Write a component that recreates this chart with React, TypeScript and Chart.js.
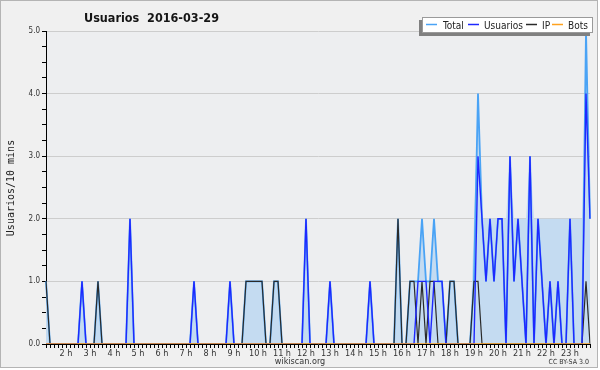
import React, { useEffect, useRef } from "react";
import { Chart, registerables } from "chart.js";

Chart.register(...registerables);

// 10-minute slots from 01:10 to 23:50
const START_MINUTE = 70;
const SLOT_COUNT = 137;
const categories: string[] = [];
for (let i = 0; i < SLOT_COUNT; i++) {
  const m = START_MINUTE + i * 10;
  categories.push(`${String(Math.floor(m / 60)).padStart(2, "0")}:${String(m % 60).padStart(2, "0")}`);
}
const tickLabels: string[] = categories.map((c) => (c.endsWith(":00") ? `${parseInt(c, 10)} h` : ""));

// rows: 01:10-01:50, then one row per hour (02h ... 23h)
const usuarios: number[] = [
  0, 0, 0, 0, 0,
  0, 0, 0, 0, 1, 0,
  0, 0, 0, 0, 0, 0,
  0, 0, 0, 0, 2, 0,
  0, 0, 0, 0, 0, 0,
  0, 0, 0, 0, 0, 0,
  0, 0, 1, 0, 0, 0,
  0, 0, 0, 0, 0, 1,
  0, 0, 0, 0, 0, 0,
  0, 0, 0, 0, 0, 0,
  0, 0, 0, 0, 0, 0,
  2, 0, 0, 0, 0, 0,
  1, 0, 0, 0, 0, 0,
  0, 0, 0, 0, 1, 0,
  0, 0, 0, 0, 0, 0,
  0, 0, 0, 0, 1, 1,
  1, 0, 1, 1, 1, 0,
  0, 0, 0, 0, 0, 0,
  0, 3, 2, 1, 2, 1,
  2, 2, 0, 3, 1, 2,
  1, 0, 3, 0, 2, 1,
  0, 1, 0, 1, 0, 0,
  2, 0, 0, 0, 4, 2,
];

const ip: number[] = [
  1, 0, 0, 0, 0,
  0, 0, 0, 0, 0, 0,
  0, 0, 1, 0, 0, 0,
  0, 0, 0, 0, 0, 0,
  0, 0, 0, 0, 0, 0,
  0, 0, 0, 0, 0, 0,
  0, 0, 0, 0, 0, 0,
  0, 0, 0, 0, 0, 0,
  0, 0, 0, 1, 1, 1,
  1, 1, 0, 0, 1, 1,
  0, 0, 0, 0, 0, 0,
  0, 0, 0, 0, 0, 0,
  0, 0, 0, 0, 0, 0,
  0, 0, 0, 0, 0, 0,
  0, 0, 0, 0, 0, 2,
  0, 0, 1, 1, 0, 1,
  0, 1, 1, 0, 0, 0,
  1, 1, 0, 0, 0, 0,
  1, 1, 0, 0, 0, 0,
  0, 0, 0, 0, 0, 0,
  0, 0, 0, 0, 0, 0,
  0, 0, 0, 0, 0, 0,
  0, 0, 0, 0, 1, 0,
];

const total: number[] = [
  1, 0, 0, 0, 0,
  0, 0, 0, 0, 1, 0,
  0, 0, 1, 0, 0, 0,
  0, 0, 0, 0, 2, 0,
  0, 0, 0, 0, 0, 0,
  0, 0, 0, 0, 0, 0,
  0, 0, 1, 0, 0, 0,
  0, 0, 0, 0, 0, 1,
  0, 0, 0, 1, 1, 1,
  1, 1, 0, 0, 1, 1,
  0, 0, 0, 0, 0, 0,
  2, 0, 0, 0, 0, 0,
  1, 0, 0, 0, 0, 0,
  0, 0, 0, 0, 1, 0,
  0, 0, 0, 0, 0, 2,
  0, 0, 1, 1, 1, 2,
  1, 1, 2, 1, 1, 0,
  1, 1, 0, 0, 0, 0,
  1, 4, 2, 1, 2, 1,
  2, 2, 0, 3, 1, 2,
  1, 0, 3, 0, 2, 1,
  0, 1, 0, 1, 0, 0,
  2, 0, 0, 0, 5, 2,
];

const bots: number[] = new Array(SLOT_COUNT).fill(0);

// shaded area
const area: number[] = [
  1, 0, 0, 0, 0,
  0, 0, 0, 0, 1, 0,
  0, 0, 1, 0, 0, 0,
  0, 0, 0, 0, 2, 0,
  0, 0, 0, 0, 0, 0,
  0, 0, 0, 0, 0, 0,
  0, 0, 1, 0, 0, 0,
  0, 0, 0, 0, 0, 1,
  0, 0, 0, 1, 1, 1,
  1, 1, 0, 0, 1, 1,
  0, 0, 0, 0, 0, 0,
  2, 0, 0, 0, 0, 0,
  1, 0, 0, 0, 0, 0,
  0, 0, 0, 0, 1, 0,
  0, 0, 0, 0, 0, 2,
  0, 0, 1, 1, 1, 2,
  1, 1, 2, 1, 1, 0,
  1, 1, 0, 0, 0, 0,
  2, 4, 2, 2, 2, 2,
  2, 2, 2, 3, 2, 2,
  2, 2, 3, 2, 2, 2,
  2, 2, 2, 2, 2, 2,
  2, 2, 2, 2, 5, 2,
];

const TITLE = "Usuarios  2016-03-29";
const Y_TITLE = "Usuarios/10 mins";
const LEGEND = [
  { label: "Total", color: "#4aa3f5", lineX: 426, textX: 443 },
  { label: "Usuarios", color: "#1e28ff", lineX: 468, textX: 484 },
  { label: "IP", color: "#2a2a2a", lineX: 526, textX: 542 },
  { label: "Bots", color: "#ffa21f", lineX: 552, textX: 568 },
];

const SANS = "'DejaVu Sans Condensed', 'DejaVu Sans', sans-serif";
const AREA_INDEX = 4;

const decor = {
  id: "decor",
  beforeDraw(chart: any) {
    const { ctx, chartArea: a } = chart;
    ctx.save();
    ctx.fillStyle = "#ffffff";
    ctx.fillRect(0, 0, 600, 370);
    ctx.fillStyle = "#f0f0f0";
    ctx.fillRect(0, 0, 598, 368);
    ctx.strokeStyle = "#b4b4b4";
    ctx.lineWidth = 1;
    ctx.strokeRect(0.5, 0.5, 597, 367);
    ctx.fillStyle = "#edeef0";
    ctx.fillRect(a.left, a.top, a.right - a.left, a.bottom - a.top);
    ctx.restore();
  },
  beforeDatasetsDraw(chart: any) {
    const { ctx } = chart;
    const pts = chart.getDatasetMeta(AREA_INDEX).data;
    const base = chart.scales.y.getPixelForValue(0);
    ctx.save();
    ctx.fillStyle = "#c4dbf1";
    ctx.beginPath();
    ctx.moveTo(pts[0].x, base);
    for (const p of pts) ctx.lineTo(p.x, p.y);
    ctx.lineTo(pts[pts.length - 1].x, base);
    ctx.closePath();
    ctx.fill();
    ctx.restore();
  },
  afterDraw(chart: any) {
    const { ctx } = chart;
    ctx.save();
    // title
    ctx.fillStyle = "#151515";
    ctx.font = `bold 12.5px ${SANS}`;
    ctx.textAlign = "center";
    ctx.textBaseline = "alphabetic";
    ctx.fillText(TITLE, 151.5, 22);

    // y title
    ctx.save();
    ctx.translate(11, 188);
    ctx.rotate(-Math.PI / 2);
    ctx.font = "10px 'DejaVu Sans Mono', monospace";
    ctx.textAlign = "center";
    ctx.textBaseline = "middle";
    ctx.fillStyle = "#222";
    ctx.fillText(Y_TITLE, 0, 0);
    ctx.restore();

    // footer
    ctx.font = `9px ${SANS}`;
    ctx.fillStyle = "#333";
    ctx.textAlign = "center";
    ctx.fillText("wikiscan.org", 300, 364);
    ctx.font = `7px ${SANS}`;
    ctx.textAlign = "right";
    ctx.fillText("CC BY-SA 3.0", 589, 364);

    // legend
    const bx = 422, by = 17, bw = 171, bh = 16;
    ctx.fillStyle = "#808080";
    ctx.fillRect(bx - 3, by + 3, bw, bh);
    ctx.fillStyle = "#ffffff";
    ctx.fillRect(bx, by, bw, bh);
    ctx.strokeStyle = "#9a9a9a";
    ctx.lineWidth = 1;
    ctx.strokeRect(bx + 0.5, by + 0.5, bw - 1, bh - 1);
    ctx.font = `10px ${SANS}`;
    ctx.textAlign = "left";
    ctx.textBaseline = "alphabetic";
    for (const item of LEGEND) {
      ctx.strokeStyle = item.color;
      ctx.lineWidth = 1.5;
      ctx.beginPath();
      ctx.moveTo(item.lineX, 24.5);
      ctx.lineTo(item.lineX + 11, 24.5);
      ctx.stroke();
      ctx.fillStyle = "#222";
      ctx.fillText(item.label, item.textX, 28.5);
    }
    ctx.restore();
  },
};

export default function App() {
  const ref = useRef<HTMLCanvasElement | null>(null);
  useEffect(() => {
    document.body.style.margin = "0";
    const canvas = ref.current!;
    const line = (label: string, data: number[], color: string, width: number) => ({
      label,
      data,
      borderColor: color,
      backgroundColor: color,
      borderWidth: width,
      pointRadius: 0,
      tension: 0,
      fill: false,
    });
    const chart = new Chart(canvas, {
      type: "line",
      data: {
        labels: categories,
        datasets: [
          line("Bots", bots, "#ffa21f", 1.3),
          line("Usuarios", usuarios, "#1e28ff", 1.4),
          line("IP", ip, "#2a2a2a", 1.2),
          line("Total", total, "#4aa3f5", 1.8),
          {
            label: "area",
            data: area,
            showLine: false,
            borderWidth: 0,
            pointRadius: 0,
            fill: false,
          },
        ],
      },
      options: {
        responsive: false,
        animation: false,
        events: [],
        layout: { padding: { left: 0, top: 31, right: 10, bottom: 0 } },
        plugins: { legend: { display: false }, tooltip: { enabled: false }, title: { display: false } },
        scales: {
          x: {
            type: "category",
            offset: false,
            z: 1,
            afterFit: (s: any) => {
              s.height = 26;
            },
            border: { display: true, color: "#000", width: 1 },
            grid: { display: true, drawOnChartArea: false, drawTicks: true, tickLength: 4, tickColor: "#000" },
            ticks: {
              autoSkip: false,
              maxRotation: 0,
              minRotation: 0,
              padding: 0,
              color: "#333",
              font: { family: SANS, size: 9 },
              callback: (_v: any, i: number) => tickLabels[i],
            },
          },
          y: {
            min: 0,
            max: 5,
            afterFit: (s: any) => {
              s.width = 46;
            },
            border: { display: true, color: "#000", width: 1 },
            grid: {
              display: true,
              drawTicks: true,
              tickLength: 4,
              tickColor: "#000",
              color: (c: any) => (c.tick && Number.isInteger(c.tick.value) && c.tick.value > 0 ? "#cdcdcd" : "rgba(0,0,0,0)"),
            },
            ticks: {
              stepSize: 0.25,
              autoSkip: false,
              padding: 2,
              color: "#333",
              font: { family: SANS, size: 8 },
              callback: (v: any) => (Number.isInteger(v) ? Number(v).toFixed(1) : ""),
            },
          },
        },
      },
      plugins: [decor],
    } as any);
    return () => chart.destroy();
  }, []);
  return <canvas ref={ref} width={600} height={370} style={{ display: "block", width: 600, height: 370 }} />;
}
